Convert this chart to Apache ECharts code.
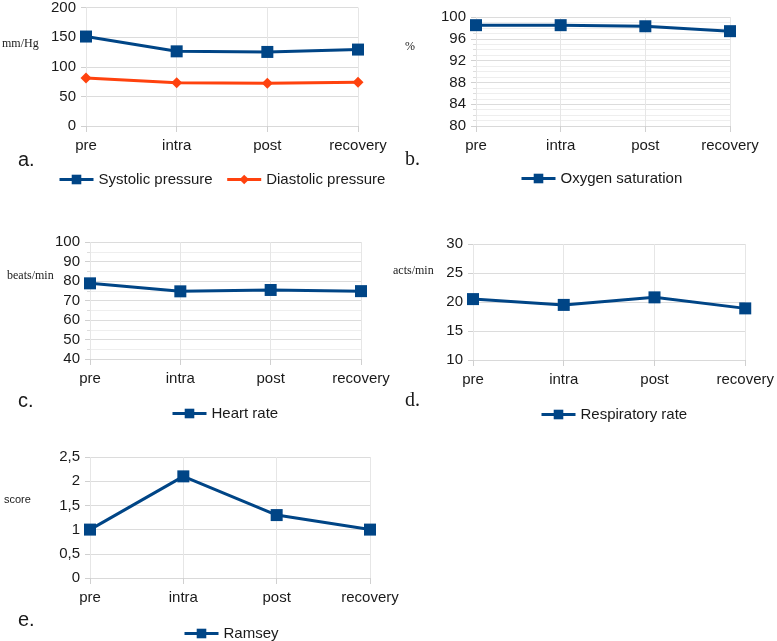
<!DOCTYPE html>
<html>
<head>
<meta charset="utf-8">
<script src="https://cdn.jsdelivr.net/npm/echarts@6/dist/echarts.min.js"></script>
<style>html,body{margin:0;padding:0;background:#fff}#c{width:777px;height:641px}</style>
</head>
<body>
<div id="c"></div>
<script>
var categories = ['pre', 'intra', 'post', 'recovery'];
var systolic = [151, 126, 125, 129];
var diastolic = [81, 73, 72, 74];
var oxygen = [98.5, 98.5, 98.3, 97.4];
var heartRate = [78.8, 74.7, 75.4, 74.8];
var respRate = [20.5, 19.5, 20.8, 18.9];
var ramsey = [1, 2.1, 1.3, 1];

var BLUE = '#004586', ORANGE = '#ff420e', TXT = '#1a1a1a';
var grids = [
  {left: 86, top: 7, width: 272, height: 119},
  {left: 476, top: 17, width: 254, height: 109},
  {left: 90, top: 242, width: 271, height: 117},
  {left: 473, top: 244, width: 275, height: 116},
  {left: 90, top: 457, width: 280, height: 121}
];
var yCfg = [
  {min: 0, max: 200, interval: 50, minor: 0},
  {min: 80, max: 100, interval: 4, minor: 4},
  {min: 40, max: 100, interval: 10, minor: 2},
  {min: 10, max: 30, interval: 5, minor: 0},
  {min: 0, max: 2.5, interval: 0.5, minor: 0}
];
var xAxes = grids.map(function (g, i) {
  return {
    type: 'category', gridIndex: i, data: categories, boundaryGap: false,
    axisLine: {show: true, lineStyle: {color: '#d9d9d9'}},
    axisTick: {show: true, length: 6, lineStyle: {color: '#d0d0d0'}},
    splitLine: {show: true, lineStyle: {color: '#e6e6e6'}},
    axisLabel: {color: TXT, fontSize: 15, fontFamily: 'Liberation Sans', margin: 12}
  };
});
var yAxes = yCfg.map(function (c, i) {
  var o = {
    type: 'value', gridIndex: i, min: c.min, max: c.max, interval: c.interval,
    axisLine: {show: false},
    axisTick: {show: true, length: 5, lineStyle: {color: '#d0d0d0'}},
    splitLine: {show: true, lineStyle: {color: '#dcdcdc'}},
    axisLabel: {color: TXT, fontSize: 15, fontFamily: 'Liberation Sans', margin: 10,
      formatter: function (v) { return String(v).replace('.', ','); }}
  };
  if (c.minor) {
    o.minorTick = {show: true, splitNumber: c.minor, length: 3, lineStyle: {color: '#dddddd'}};
    o.minorSplitLine = {show: true, lineStyle: {color: '#eeeeee'}};
  }
  return o;
});
function ser(name, data, idx, color, symbol, size) {
  return {
    name: name, type: 'line', xAxisIndex: idx, yAxisIndex: idx, data: data,
    symbol: symbol, symbolSize: size, showSymbol: true,
    lineStyle: {color: color, width: 3}, itemStyle: {color: color},
    emphasis: {disabled: true}, animation: false
  };
}
var series = [
  ser('Systolic pressure', systolic, 0, BLUE, 'rect', 12),
  ser('Diastolic pressure', diastolic, 0, ORANGE, 'diamond', 11),
  ser('Oxygen saturation', oxygen, 1, BLUE, 'rect', 12),
  ser('Heart rate', heartRate, 2, BLUE, 'rect', 12),
  ser('Respiratory rate', respRate, 3, BLUE, 'rect', 12),
  ser('Ramsey', ramsey, 4, BLUE, 'rect', 12)
];
function leg(names, left, top) {
  return {
    data: names, left: left, top: top, orient: 'horizontal', padding: 0,
    itemWidth: 34, itemHeight: 12, itemGap: 13, selectedMode: false,
    lineStyle: {width: 3},
    textStyle: {color: TXT, fontSize: 15, fontFamily: 'Liberation Sans'}
  };
}
var legends = [
  leg(['Systolic pressure', 'Diastolic pressure'], 58, 172),
  leg(['Oxygen saturation'], 520, 171),
  leg(['Heart rate'], 171, 406),
  leg(['Respiratory rate'], 540, 407),
  leg(['Ramsey'], 183, 626)
];
function txt(s, x, y, size, family) {
  return {type: 'text', left: x, top: y, style: {text: s, fill: TXT, fontSize: size, fontFamily: family}};
}
var graphics = [
  txt('mm/Hg', 2, 38, 12, 'Liberation Serif'),
  txt('%', 405, 41, 12, 'Liberation Serif'),
  txt('beats/min', 7, 270, 12, 'Liberation Serif'),
  txt('acts/min', 393, 265, 12, 'Liberation Serif'),
  txt('score', 4, 494, 11, 'Liberation Sans'),
  txt('a.', 18, 150, 20, 'Liberation Sans'),
  txt('b.', 405, 150, 20, 'Liberation Serif'),
  txt('c.', 18, 391, 20, 'Liberation Sans'),
  txt('d.', 405, 391, 20, 'Liberation Serif'),
  txt('e.', 18, 610, 20, 'Liberation Sans')
];
var chart = echarts.init(document.getElementById('c'), null, {renderer: 'canvas'});
chart.setOption({
  animation: false,
  backgroundColor: '#ffffff',
  grid: grids,
  xAxis: xAxes,
  yAxis: yAxes,
  legend: legends,
  series: series,
  graphic: graphics
});
</script>
</body>
</html>
